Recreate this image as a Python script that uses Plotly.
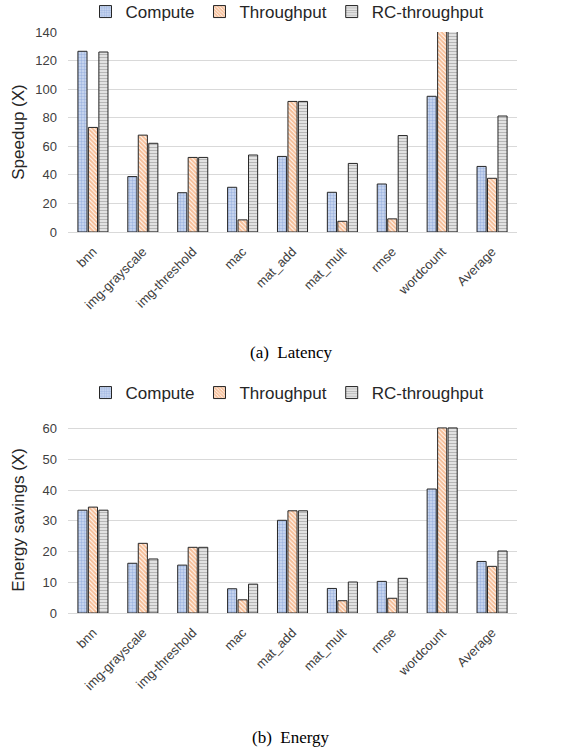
import plotly.graph_objects as go

categories = ["bnn", "img-grayscale", "img-threshold", "mac", "mat_add",
              "mat_mult", "rmse", "wordcount", "Average"]
series_names = ["Compute", "Throughput", "RC-throughput"]

# (a) Latency speedup
lat_compute = [126.5, 38.8, 27.5, 31.3, 52.9, 27.8, 33.6, 95.0, 45.9]
lat_throughput = [73.2, 67.8, 52.2, 8.5, 91.4, 7.5, 9.2, 160.0, 37.6]
lat_rc = [126.0, 62.1, 52.2, 53.9, 91.4, 48.0, 67.5, 160.0, 81.2]

# (b) Energy savings
en_compute = [33.5, 16.2, 15.6, 7.9, 30.2, 8.0, 10.3, 40.4, 16.8]
en_throughput = [34.5, 22.7, 21.4, 4.3, 33.3, 4.0, 4.8, 60.3, 15.2]
en_rc = [33.5, 17.6, 21.4, 9.4, 33.3, 10.1, 11.3, 60.3, 20.2]

lat_ticks = [0, 20, 40, 60, 80, 100, 120, 140]
en_ticks = [0, 10, 20, 30, 40, 50, 60]

styles = [
    dict(bg="#cfdbf2", fg="#7393cf", shape=".", size=3, solidity=0.5),
    dict(bg="#ffffff", fg="#ed7d31", shape="\\", size=3, solidity=0.7),
    dict(bg="#ffffff", fg="#6e6e6e", shape="-", size=3, solidity=0.6),
]

W, H = 584, 753
fig = go.Figure()

def add_group(values_list, xa, ya, legend_name):
    for name, vals, st in zip(series_names, values_list, styles):
        fig.add_trace(go.Bar(
            x=categories, y=vals, name=name, xaxis=xa, yaxis=ya,
            legend=legend_name,
            marker=dict(color=st["bg"],
                        line=dict(color="#262626", width=1),
                        pattern=dict(shape=st["shape"], fgcolor=st["fg"],
                                     bgcolor=st["bg"], size=st["size"],
                                     solidity=st["solidity"])),
            cliponaxis=True,
        ))

add_group([lat_compute, lat_throughput, lat_rc], "x", "y", "legend")
add_group([en_compute, en_throughput, en_rc], "x2", "y2", "legend2")

def py(px):
    return 1 - px / H

def pxx(px):
    return px / W

x_dom = [pxx(68), pxx(517)]
axis_font = dict(family="Liberation Sans, Arial", size=13, color="#404040")
xtick_font = dict(family="Liberation Sans, Arial", size=13, color="#404040")
title_font = dict(family="Liberation Sans, Arial", size=17, color="#262626")
legend_font = dict(family="Liberation Sans, Arial", size=17, color="#262626")

fig.update_layout(
    width=W, height=H,
    margin=dict(l=0, r=0, t=0, b=0, autoexpand=False),
    paper_bgcolor="white", plot_bgcolor="white",
    barmode="group", bargap=0.37, bargroupgap=0.13,
    font=dict(family="Liberation Sans, Arial", color="#404040"),
    xaxis=dict(domain=x_dom, anchor="y", tickangle=-45, tickfont=xtick_font,
               showline=True, linecolor="#d9d9d9", linewidth=1,
               ticks="", showgrid=False, ticklabelstandoff=6),
    yaxis=dict(domain=[py(232), py(32)], anchor="x", range=[0, 140],
               tickvals=lat_ticks, tickfont=axis_font, ticklabelstandoff=10,
               showgrid=True, gridcolor="#d9d9d9", gridwidth=1,
               zeroline=False, showline=False, ticks="",
               title=dict(text="Speedup (X)", standoff=6, font=title_font)),
    xaxis2=dict(domain=x_dom, anchor="y2", tickangle=-45, tickfont=xtick_font,
                showline=True, linecolor="#d9d9d9", linewidth=1,
                ticks="", showgrid=False, ticklabelstandoff=6),
    yaxis2=dict(domain=[py(613), py(427)], anchor="x2", range=[0, 60.6],
                tickvals=en_ticks, tickfont=axis_font, ticklabelstandoff=10,
                showgrid=True, gridcolor="#d9d9d9", gridwidth=1,
                zeroline=False, showline=False, ticks="",
                title=dict(text="Energy savings (X)", standoff=13, font=title_font)),
    legend=dict(orientation="h", x=pxx(287), xanchor="center", y=py(12), yanchor="middle",
                font=legend_font, itemwidth=30, traceorder="normal",
                bgcolor="rgba(0,0,0,0)"),
    legend2=dict(orientation="h", x=pxx(287), xanchor="center", y=py(393), yanchor="middle",
                 font=legend_font, itemwidth=30, traceorder="normal",
                 bgcolor="rgba(0,0,0,0)"),
    annotations=[
        dict(text="(a)  Latency", x=pxx(291), y=py(352), xref="paper", yref="paper",
             showarrow=False, xanchor="center", yanchor="middle",
             font=dict(family="Liberation Serif, Times New Roman", size=17, color="#000")),
        dict(text="(b)  Energy", x=pxx(291), y=py(737), xref="paper", yref="paper",
             showarrow=False, xanchor="center", yanchor="middle",
             font=dict(family="Liberation Serif, Times New Roman", size=17, color="#000")),
    ],
)

fig.write_html("out.html",
               config={"displayModeBar": False},
               post_script="document.body.style.margin='0px';document.body.style.overflow='hidden';")
